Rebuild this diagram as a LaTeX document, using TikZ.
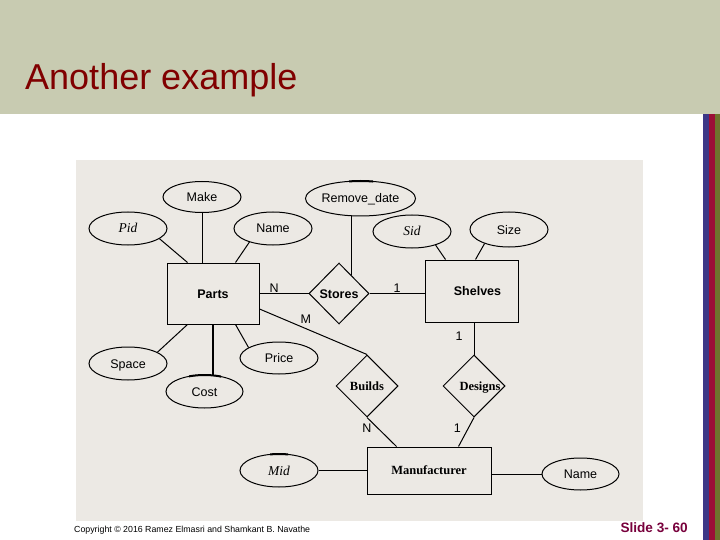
\documentclass[tikz,border=0pt]{standalone}
\usepackage{fontspec}
\setmainfont{Liberation Serif}
\setsansfont{Liberation Sans}
\usetikzlibrary{shapes.geometric,calc}
\definecolor{hdr}{RGB}{200,203,177}
\definecolor{panel}{RGB}{236,233,228}
\definecolor{titlered}{RGB}{128,0,0}
\definecolor{slidecol}{RGB}{120,0,60}
\definecolor{barblue}{RGB}{60,55,135}
\definecolor{barred}{RGB}{155,15,55}
\definecolor{barolive}{RGB}{110,115,45}
\tikzset{
  attr/.style={ellipse, draw, line width=1pt, inner sep=0pt,
    font=\sffamily\fontsize{12.5}{14}\selectfont, text height=9pt, text depth=0pt},
  keyattr/.style={attr, font=\rmfamily\itshape\fontsize{13.5}{15}\selectfont},
  ent/.style={rectangle, draw, line width=1pt, inner sep=0pt,
    font=\sffamily\bfseries\fontsize{12.5}{14}\selectfont, text height=9pt, text depth=0pt},
  entserif/.style={ent, font=\rmfamily\bfseries\fontsize{12.5}{14}\selectfont, text height=8.5pt},
  rel/.style={diamond, draw, line width=1pt, inner sep=0pt,
    font=\sffamily\bfseries\fontsize{12.5}{14}\selectfont, text height=9pt, text depth=0pt},
  relserif/.style={rel, font=\rmfamily\bfseries\fontsize{12.5}{14}\selectfont, text height=8.5pt},
  card/.style={inner sep=1pt, font=\sffamily\fontsize{12.5}{14}\selectfont},
  link/.style={line width=1pt},
  keybar/.style={line width=2pt}
}
\begin{document}
\begin{tikzpicture}[x=1pt,y=-1pt]
\fill[white] (0,0) rectangle (720,540);
\useasboundingbox (0,0) rectangle (720,540);
\fill[hdr] (0,0) rectangle (720,114);
\fill[barblue] (703,114) rectangle (709,540);
\fill[barred] (709,114) rectangle (715,540);
\fill[barolive] (715,114) rectangle (720,540);
\node[anchor=base west, inner sep=0pt, text=titlered, font=\sffamily\fontsize{36}{40}\selectfont] (title) at (25,90) {Another example};
\fill[panel] (76,160) rectangle (643,521);

% attributes
\node[attr, minimum width=78pt, minimum height=31pt] (make) at (202,197) {Make};
\node[keyattr, minimum width=78pt, minimum height=33pt] (pid) at (128,228.5) {Pid};
\node[attr, minimum width=78pt, minimum height=33pt] (pname) at (273,228.5) {Name};
\node[attr, minimum width=105pt, minimum height=35pt] (remove) at (360.5,198.5) {Remove\_date};
\node[keyattr, minimum width=78pt, minimum height=33pt] (sid) at (412,231.5) {Sid};
\node[attr, minimum width=78pt, minimum height=35pt] (size) at (509,229.5) {Size};
\node[attr, minimum width=78pt, minimum height=33pt] (space) at (128,363.5) {Space};
\node[attr, minimum width=77pt, minimum height=33pt] (cost) at (204.5,391.5) {Cost};
\node[attr, minimum width=78pt, minimum height=32pt] (price) at (279,358) {Price};
\node[keyattr, minimum width=78pt, minimum height=33pt] (mid) at (279,470.5) {Mid};
\node[attr, minimum width=77pt, minimum height=32pt] (mname) at (580.5,474) {Name};

% entities and relationships
\node[ent, minimum width=92pt, minimum height=61pt] (parts) at (213,293.5) {Parts};
\node[rel, minimum width=60pt, minimum height=61pt] (stores) at (339,293.5) {Stores};
\node[ent, minimum width=93pt, minimum height=62pt] (shelves) at (471.5,291) {\makebox[0pt]{\hspace{12pt}Shelves}};
\node[relserif, minimum width=62pt, minimum height=62pt] (builds) at (367,386) {Builds};
\node[relserif, minimum width=62pt, minimum height=62pt] (designs) at (474,386) {\makebox[0pt]{\hspace{12pt}Designs}};
\node[entserif, minimum width=124pt, minimum height=47pt] (manu) at (429,470.5) {Manufacturer};

% key bars
\begin{scope}
  \clip (349,170) rectangle (373,190);
  \draw[keybar] (remove.center) ellipse [x radius=52.5, y radius=17.5];
\end{scope}
\begin{scope}
  \clip (189,368) rectangle (221,382);
  \draw[keybar] (cost.center) ellipse [x radius=38.5, y radius=16.5];
\end{scope}
\begin{scope}
  \clip (270,446) rectangle (288,462);
  \draw[keybar] (mid.center) ellipse [x radius=39, y radius=16.5];
\end{scope}

% connectors
\draw[link] (make.south) -- (make.south |- parts.north);
\draw[link] (pid.-18) -- ($(parts.north west)+(21,0)$);
\draw[link] (pname.210) -- ($(parts.north west)+(69,0)$);
\draw[link] (parts.east) -- node[card, above, pos=.3] {N} (stores.west);
\draw[link] (stores.east) -- node[card, above] {1} (stores.east -| shelves.west);
\draw[link] (remove.south -| stores.57) -- (stores.57);
\draw[link] (sid.-30) -- ($(shelves.north west)+(21,0)$);
\draw[link] (size.210) -- ($(shelves.north west)+(51,0)$);
\draw[link] ($(parts.east)+(0,15.5)$) -- node[card, above=4pt, pos=.43] {M} (builds.north);
\draw[link] (shelves.south -| designs.north) -- node[card, left=10pt, pos=.42] {1} (designs.north);
\draw[link] (builds.south) -- node[card, left=5pt, pos=.37] {N} ($(manu.north west)+(30,0)$);
\draw[link] (designs.south) -- node[card, left=6pt, pos=.37] {1} ($(manu.north west)+(92,0)$);
\draw[link] (mid.east) -- (manu.west);
\draw[link] (manu.east |- mname.west) -- (mname.west);
\draw[link] ($(parts.south west)+(21,0)$) -- (space.21);
\draw[link, line width=2.5pt] (parts.south) -- (parts.south |- cost.north);
\draw[link] ($(parts.south west)+(69,0)$) -- (price.161);

% footer
\node[anchor=base west, inner sep=0pt, font=\sffamily\fontsize{8.8}{10}\selectfont] (copy) at (74,532) {Copyright © 2016 Ramez Elmasri and Shamkant B. Navathe};
\node[anchor=base east, inner sep=0pt, text=slidecol, font=\sffamily\bfseries\fontsize{13.6}{15}\selectfont] (slide) at (688,532.5) {Slide 3- 60};
\end{tikzpicture}
\end{document}
